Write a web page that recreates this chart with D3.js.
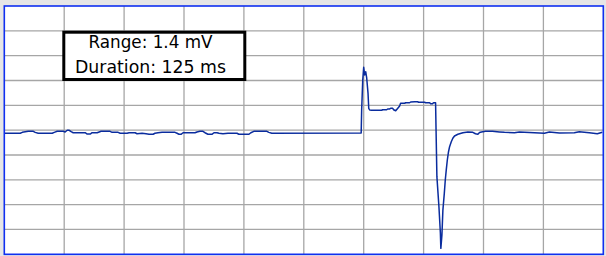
<!DOCTYPE html>
<html><head><meta charset="utf-8">
<script src="https://cdn.jsdelivr.net/npm/d3@7"></script>
<style>html,body{margin:0;padding:0;background:#e6e6e6;overflow:hidden}svg{display:block}</style>
</head><body>
<svg id="c" width="606" height="256"></svg>
<script>
// time (ms) and voltage (mV)
const timeMs = [0,13.3,15,20,24.2,25.8,28.3,40,41.7,44.2,49.2,50.8,52.5,54.2,55.8,57.5,67.5,69.2,71.7,73.3,77.5,79.2,80.8,88.3,90,95,96.7,102.5,104.2,109.2,110.8,115,118.3,120.8,124.2,125.8,128.3,131.7,142.5,144.2,145.8,147.5,149.2,159.2,160.8,163.3,165.8,167.5,170,173.3,175,177.5,179.2,182.5,186.7,194.2,195.8,204.2,205.8,208.3,219.2,220.8,223.3,
  297.9,298.3,299.2,300,300.8,301.7,302.5,303.6,304.2,305,306.7,315,315.8,319.2,320,321.7,322.5,324.2,325,326.7,328.3,330,330.8,334.2,335,338.3,339.2,342.5,345,345.8,350.8,351.7,355,355.8,357.5,358.3,360,
  360.4,361.1,362.8,364,364.4,365.3,366.1,367.3,368.1,368.9,369.8,370.8,371.7,373.1,374.4,375.8,378.6,382.8,387,391.1,393.3,395.3,396.7,398.3,401.7,407.5,413.3,417.5,425.8,430,442.5,450.8,455,463.3,475.8,480,488.3,495,499.2];
const voltageMv = [-0.015,-0.015,-0.008,0,0,-0.008,-0.015,-0.015,-0.008,0,0,-0.005,0.008,0.008,-0.003,-0.011,-0.011,-0.021,-0.021,-0.011,-0.011,-0.005,0,0,-0.008,-0.008,-0.015,-0.015,-0.011,-0.011,-0.019,-0.015,-0.019,-0.023,-0.023,-0.015,-0.011,-0.008,-0.008,-0.015,-0.023,-0.023,-0.011,-0.011,-0.005,0,0,-0.011,-0.023,-0.023,-0.011,-0.011,-0.015,-0.019,-0.015,-0.015,-0.023,-0.023,-0.011,0,0,-0.008,-0.015,
  -0.013,0.165,0.397,0.496,0.436,0.461,0.413,0.296,0.178,0.165,0.163,0.163,0.167,0.167,0.173,0.173,0.178,0.178,0.167,0.159,0.177,0.196,0.217,0.217,0.221,0.221,0.227,0.229,0.229,0.225,0.225,0.221,0.221,0.214,0.214,0.221,0.221,
  0.010,-0.351,-0.584,-0.787,-0.906,-0.803,-0.610,-0.478,-0.377,-0.300,-0.222,-0.158,-0.119,-0.081,-0.054,-0.036,-0.023,-0.011,-0.005,-0.008,-0.019,-0.023,-0.009,-0.005,0,0,-0.005,-0.008,-0.011,-0.005,-0.011,-0.015,-0.005,-0.013,-0.011,-0.003,-0.011,-0.019,-0.008];
const labels = ["Range: 1.4 mV", "Duration: 125 ms"];
const xDomain = [0, 500];
const yDomain = [-0.952, 0.970];

const svg = d3.select("#c");
const L = 4.3, R = 603.3, T = 6, B = 254.3;
const x = d3.scaleLinear().domain(xDomain).range([L, R]);
const y = d3.scaleLinear().domain(yDomain).range([B, T]);

svg.append("rect").attr("x", L).attr("y", T).attr("width", R - L).attr("height", B - T).attr("fill", "#fff");

const g = svg.append("g");
const xt = d3.range(1, 10).map(i => xDomain[0] + i * (xDomain[1] - xDomain[0]) / 10);
const yt = d3.range(1, 10).map(i => yDomain[0] + i * (yDomain[1] - yDomain[0]) / 10);
g.selectAll(".vx").data(xt).join("line")
  .attr("x1", d => x(d)).attr("x2", d => x(d)).attr("y1", T).attr("y2", B)
  .attr("stroke", "#a6a6a6").attr("stroke-width", 1.3);
g.selectAll(".hy").data(yt).join("line")
  .attr("x1", L).attr("x2", R).attr("y1", d => y(d)).attr("y2", d => y(d))
  .attr("stroke", "#a6a6a6").attr("stroke-width", 1.3);

const pts = timeMs.map((t, i) => [t, voltageMv[i]]);
svg.append("path").datum(pts)
  .attr("d", d3.line().x(d => x(d[0])).y(d => y(d[1])))
  .attr("fill", "none").attr("stroke", "#0a2c9e").attr("stroke-width", 1.5).attr("stroke-linejoin", "round");

svg.append("rect").attr("x", L).attr("y", T).attr("width", R - L).attr("height", B - T)
  .attr("fill", "none").attr("stroke", "#1030f0").attr("stroke-width", 1.6);

// info box
svg.append("rect").attr("x", 63.8).attr("y", 32.2).attr("width", 181).attr("height", 47.3)
  .attr("fill", "#fff").attr("stroke", "#000").attr("stroke-width", 3);
const widths = [124, 151];
const ys = [48.3, 72.7];
labels.forEach((s, i) => {
  svg.append("text").attr("x", 150.5).attr("y", ys[i]).attr("text-anchor", "middle")
    .attr("font-family", "DejaVu Sans").attr("font-size", 17).attr("fill", "#000")
    .attr("textLength", widths[i]).attr("lengthAdjust", "spacingAndGlyphs")
    .text(s);
});
</script>
</body></html>
